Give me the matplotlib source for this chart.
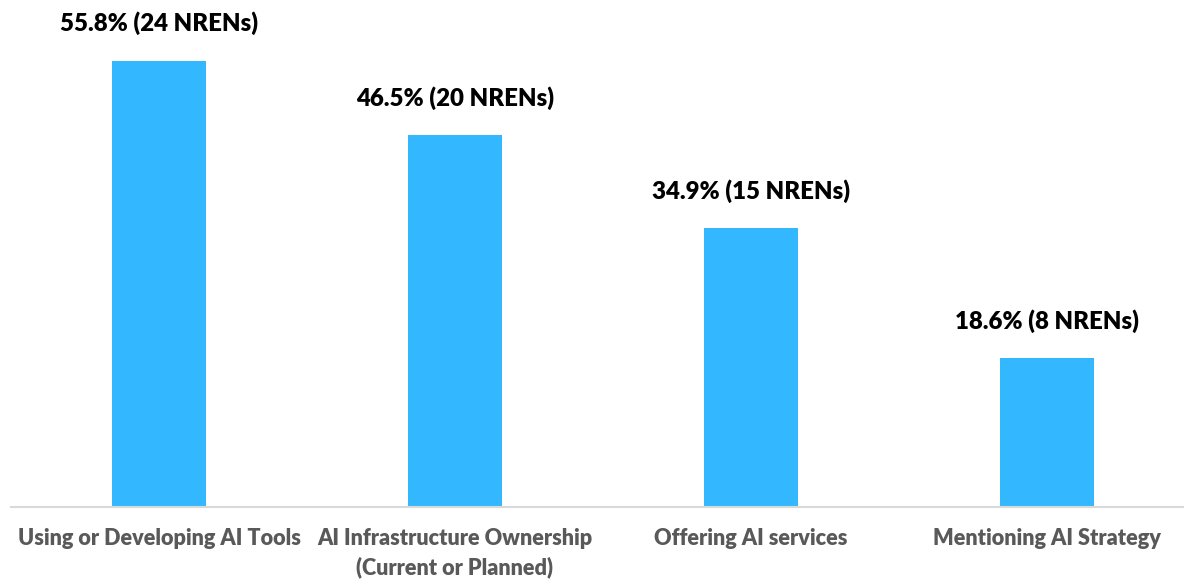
import matplotlib.pyplot as plt

plt.rcParams['font.family'] = ['Lato', 'DejaVu Sans']

# data
categories = ['Using or Developing AI Tools',
              'AI Infrastructure Ownership\n(Current or Planned)',
              'Offering AI services',
              'Mentioning AI Strategy']
percent = [55.8, 46.5, 34.9, 18.6]
nrens = [24, 20, 15, 8]

fig = plt.figure(figsize=(11.84, 5.79), dpi=100)
# axes runs a little past the right edge, like the original export
ax = fig.add_axes([11 / 1184, 72 / 579, 1184 / 1184, 507 / 579])

x = range(len(categories))
ax.bar(x, percent, width=0.317, color='#33B7FF')

for xi, p, n in zip(x, percent, nrens):
    ax.annotate(f'{p}% ({n} NRENs)', (xi, p), xytext=(0, 37),
                textcoords='offset pixels', ha='center', va='center',
                fontsize=17.3, fontweight='heavy', color='black')

ax.set_xlim(-0.5, 3.5)
ax.set_ylim(0, 507 / 8)
ax.set_yticks([])
ax.set_xticks(list(x))
ax.set_xticklabels(categories, fontsize=15.6, fontweight='heavy',
                   color='#595959', linespacing=1.4)
ax.tick_params(axis='x', length=0, pad=15)

for s in ['top', 'right', 'left']:
    ax.spines[s].set_visible(False)
ax.spines['bottom'].set_color('#D9D9D9')
ax.spines['bottom'].set_linewidth(1.5)

fig.savefig('out.png', dpi=100)
